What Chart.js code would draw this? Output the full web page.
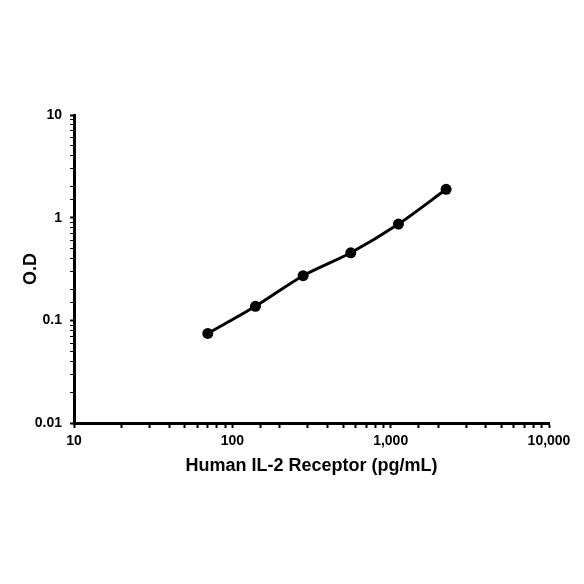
<!DOCTYPE html>
<html>
<head>
<meta charset="utf-8">
<script src="https://cdn.jsdelivr.net/npm/chart.js@4"></script>
<style>
    html, body { margin: 0; padding: 0; background: #fff; }
    #wrap { width: 584px; height: 584px; }
</style>
</head>
<body>
<div id="wrap"><canvas id="chart" width="584" height="584"></canvas></div>
<script>
// standard curve values
const concentrations = [70, 140, 280, 560, 1120, 2240];
const odValues = [0.0745, 0.137, 0.272, 0.455, 0.866, 1.89];
const xMajorTicks = [10, 100, 1000, 10000];
const yMajorTicks = [0.01, 0.1, 1, 10];

const isMajor = (v, list) => list.some(m => Math.abs(m - v) / m < 1e-6);

Chart.defaults.font.family = '"Liberation Sans", Arial, sans-serif';
Chart.defaults.font.weight = 'bold';
Chart.defaults.color = '#000';

new Chart(document.getElementById('chart').getContext('2d'), {
    type: 'line',
    data: {
        datasets: [{
            data: concentrations.map((x, i) => ({ x: x, y: odValues[i] })),
            borderColor: '#000',
            backgroundColor: '#000',
            borderWidth: 3,
            pointRadius: 5.5,
            pointBorderWidth: 0,
            tension: 0.3,
            fill: false
        }]
    },
    options: {
        responsive: false,
        animation: false,
        layout: { padding: { top: 115, right: 35, bottom: 107, left: 20 } },
        plugins: { legend: { display: false }, tooltip: { enabled: false } },
        scales: {
            x: {
                type: 'logarithmic',
                min: 10,
                max: 10000,
                afterFit: (scale) => { scale.height = 54; },
                border: { color: '#000', width: 3 },
                grid: {
                    drawOnChartArea: false,
                    tickLength: 5,
                    tickColor: '#000',
                    tickWidth: 2
                },
                ticks: {
                    autoSkip: false,
                    maxRotation: 0,
                    padding: 5,
                    font: { size: 14, weight: 'bold' },
                    callback: (v) => isMajor(v, xMajorTicks) ? v.toLocaleString('en-US') : ''
                },
                title: {
                    display: true,
                    text: 'Human IL-2 Receptor (pg/mL)',
                    font: { size: 18, weight: 'bold' },
                    padding: { top: 0, bottom: 0 }
                }
            },
            y: {
                type: 'logarithmic',
                min: 0.01,
                max: 10,
                afterFit: (scale) => { scale.width = 54; },
                border: { color: '#000', width: 3 },
                grid: {
                    drawOnChartArea: false,
                    tickLength: 4,
                    tickColor: '#000',
                    tickWidth: (ctx) => isMajor(ctx.tick.value, yMajorTicks) ? 2 : 1
                },
                ticks: {
                    autoSkip: false,
                    padding: 8,
                    font: { size: 14, weight: 'bold' },
                    callback: (v) => isMajor(v, yMajorTicks) ? String(v) : ''
                },
                title: {
                    display: true,
                    text: 'O.D',
                    font: { size: 18, weight: 'bold' },
                    padding: { top: 0, bottom: 0 }
                }
            }
        }
    }
});
</script>
</body>
</html>
